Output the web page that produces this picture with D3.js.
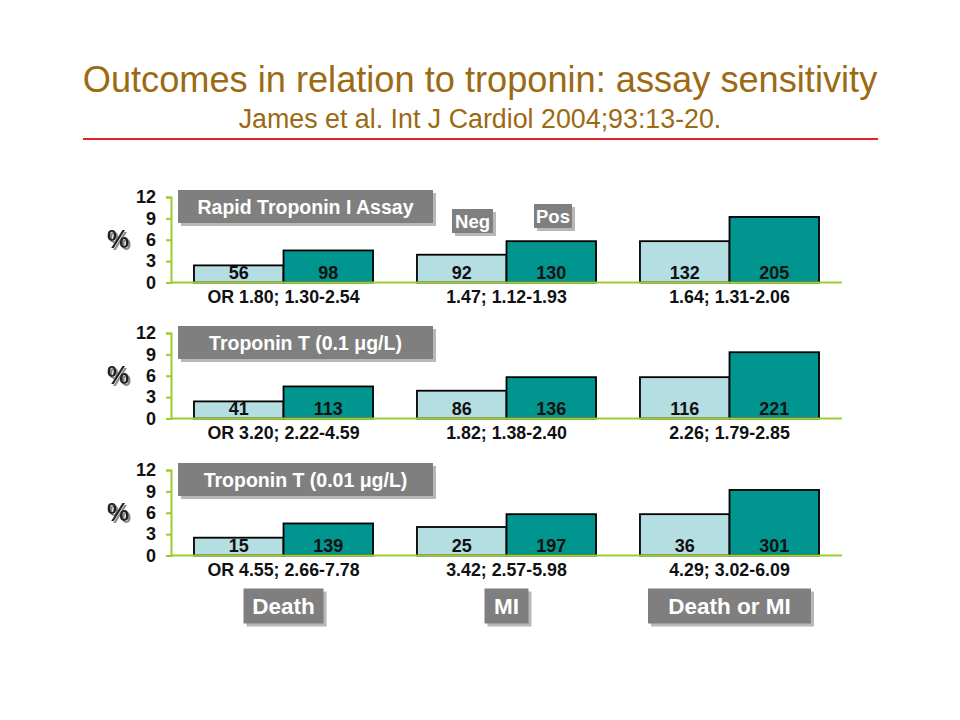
<!DOCTYPE html>
<html>
<head>
<meta charset="utf-8">
<script src="https://cdn.jsdelivr.net/npm/d3@7"></script>
<style>
  body { margin: 0; background: #fff; }
  text { font-family: "Liberation Sans", Arial, sans-serif; }
</style>
</head>
<body>
<div id="chart"></div>
<script>
// values
var outcomes = ["Death", "MI", "Death or MI"]
var groups = ["Neg", "Pos"]
var assays = ["Rapid Troponin I Assay", "Troponin T (0.1 \u03bcg/L)", "Troponin T (0.01 \u03bcg/L)"]
var yTicks = [0, 3, 6, 9, 12]

// event rate (%) per assay, per outcome
var negPct = [[2.4, 3.9, 5.8], [2.4, 3.9, 5.8], [2.5, 4.0, 5.8]]
var posPct = [[4.5, 5.8, 9.2], [4.5, 5.8, 9.3], [4.5, 5.8, 9.2]]
// number of events printed inside the bars
var negN = [[56, 92, 132], [41, 86, 116], [15, 25, 36]]
var posN = [[98, 130, 205], [113, 136, 221], [139, 197, 301]]
// odds ratios under each pair
var orText = [
  ["OR 1.80; 1.30-2.54", "1.47; 1.12-1.93", "1.64; 1.31-2.06"],
  ["OR 3.20; 2.22-4.59", "1.82; 1.38-2.40", "2.26; 1.79-2.85"],
  ["OR 4.55; 2.66-7.78", "3.42; 2.57-5.98", "4.29; 3.02-6.09"]
]

var width = 960, height = 720
var panelTop = [197, 333, 470]
var panelH = 85.5
var axisX = 171, axisEnd = 842

var colors = {Neg: "#b5dee2", Pos: "#00958f"}
var green = "#9acc2e"

var svg = d3.select("#chart").append("svg")
    .attr("width", width).attr("height", height)

// soft grey shadow for the "%" signs
svg.append("defs").append("filter")
    .attr("id", "pctShadow")
    .attr("x", "-20%").attr("y", "-20%").attr("width", "160%").attr("height", "160%")
    .append("feDropShadow")
    .attr("dx", 2).attr("dy", 2).attr("stdDeviation", 0.6)
    .attr("flood-color", "#8a8a8a").attr("flood-opacity", 1)

// heading
svg.append("text")
    .attr("x", 480).attr("y", 92)
    .attr("text-anchor", "middle")
    .attr("font-size", 36.2)
    .attr("fill", "#9b6a12")
    .text("Outcomes in relation to troponin: assay sensitivity")
svg.append("text")
    .attr("x", 480).attr("y", 128)
    .attr("text-anchor", "middle")
    .attr("font-size", 26.8)
    .attr("fill", "#9b6a12")
    .text("James et al. Int J Cardiol 2004;93:13-20.")
svg.append("line")
    .attr("x1", 83).attr("x2", 878)
    .attr("y1", 139).attr("y2", 139)
    .attr("stroke", "#e2232b").attr("stroke-width", 2)

var x0 = d3.scaleBand()
    .domain(outcomes)
    .range([axisX, axisEnd])
    .paddingInner(0.197)
    .paddingOuter(0.103)

var x1 = d3.scaleBand()
    .domain(groups)
    .range([0, x0.bandwidth()])

// grey label box with a light drop shadow
function greyBox(g, cx, cy, w, h, label, size) {
    g.append("rect")
        .attr("x", cx - w / 2 + 3).attr("y", cy - h / 2 + 3)
        .attr("width", w).attr("height", h)
        .attr("fill", "#b8b8b8")
    g.append("rect")
        .attr("x", cx - w / 2).attr("y", cy - h / 2)
        .attr("width", w).attr("height", h)
        .attr("fill", "#7f7f7f")
    g.append("text")
        .attr("x", cx).attr("y", cy)
        .attr("dy", "0.36em")
        .attr("text-anchor", "middle")
        .attr("font-size", size)
        .attr("font-weight", "bold")
        .attr("fill", "#fff")
        .text(label)
}

assays.forEach(function(name, i) {
    var top = panelTop[i]
    var y = d3.scaleLinear().domain([0, 12]).range([top + panelH, top])
    var base = y(0)
    var g = svg.append("g")

    var rows = outcomes.map(function(o, j) {
        return [
            {outcome: o, group: "Neg", pct: negPct[i][j], n: negN[i][j]},
            {outcome: o, group: "Pos", pct: posPct[i][j], n: posN[i][j]}
        ]
    })
    var flat = d3.merge(rows)

    g.selectAll("rect.bar")
        .data(flat)
        .enter().append("rect")
        .attr("class", "bar")
        .attr("x", d => x0(d.outcome) + x1(d.group))
        .attr("y", d => y(d.pct))
        .attr("width", x1.bandwidth())
        .attr("height", d => base - y(d.pct))
        .attr("fill", d => colors[d.group])
        .attr("stroke", "#000")
        .attr("stroke-width", 1.8)

    g.selectAll("text.n")
        .data(flat)
        .enter().append("text")
        .attr("class", "n")
        .attr("x", d => x0(d.outcome) + x1(d.group) + x1.bandwidth() / 2)
        .attr("y", base - 4)
        .attr("text-anchor", "middle")
        .attr("font-size", 18)
        .attr("font-weight", "bold")
        .attr("fill", "#111")
        .text(d => d.n)

    // y axis in green
    var axis = g.append("g")
        .attr("transform", "translate(" + axisX + ",0)")
        .call(d3.axisLeft(y).tickValues(yTicks).tickSize(5).tickPadding(10))
    axis.select(".domain").attr("stroke", green).attr("stroke-width", 2)
    axis.selectAll(".tick line").attr("stroke", green).attr("stroke-width", 2)
    axis.selectAll(".tick text")
        .attr("font-family", "Liberation Sans, Arial, sans-serif")
        .attr("font-size", 18)
        .attr("font-weight", "bold")
        .attr("fill", "#111")

    g.append("line")
        .attr("x1", axisX).attr("x2", axisEnd)
        .attr("y1", base).attr("y2", base)
        .attr("stroke", green).attr("stroke-width", 2)

    // "%" with shadow
    g.append("text").attr("x", 118).attr("y", y(6) + 8)
        .attr("text-anchor", "middle").attr("font-size", 25).attr("font-weight", "bold")
        .attr("fill", "#222").attr("filter", "url(#pctShadow)").text("%")

    g.selectAll("text.or")
        .data(outcomes)
        .enter().append("text")
        .attr("class", "or")
        .attr("x", d => x0(d) + x0.bandwidth() / 2)
        .attr("y", base + 20)
        .attr("text-anchor", "middle")
        .attr("font-size", 17.8)
        .attr("font-weight", "bold")
        .attr("fill", "#111")
        .text((d, j) => orText[i][j])

    greyBox(g, 305.5, top + 9.5, 255, 33, name, 19.5)
})

// Neg / Pos legend tags
greyBox(svg, 472.5, 221, 41, 24, groups[0], 18.5)
greyBox(svg, 553, 216, 38, 24, groups[1], 18.5)

// outcome tags under the last panel
var tagW = [80, 44, 163]
outcomes.forEach(function(o, j) {
    greyBox(svg, x0(o) + x0.bandwidth() / 2, 606, tagW[j], 35, o, 22.5)
})
</script>
</body>
</html>
